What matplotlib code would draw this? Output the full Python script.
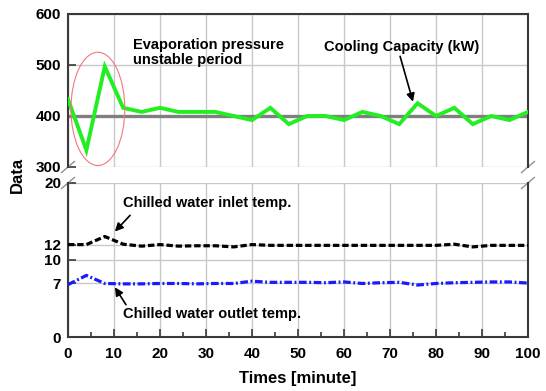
import matplotlib
matplotlib.use("Agg")
import matplotlib.pyplot as plt
from matplotlib.patches import Ellipse
import numpy as np

plt.rcParams['font.family'] = ['Liberation Sans', 'DejaVu Sans']
plt.rcParams['font.weight'] = 'bold'

# ---- data ----
times = [0, 4, 8, 12, 16, 20, 24, 28, 32, 36, 40, 44, 48, 52, 56, 60, 64, 68, 72, 76, 80, 84, 88, 92, 96, 100]
cooling_capacity = [433, 333, 497, 416, 408, 416, 408, 408, 408, 400, 392, 416, 384,
                    400, 400, 392, 408, 400, 384, 425, 400, 416, 384, 400, 392, 408]
inlet_temp = [12.0, 12.0, 13.05, 12.05, 11.8, 12.0, 11.8, 11.85, 11.85, 11.7, 12.0, 11.9, 11.9,
              11.9, 11.9, 11.9, 11.9, 11.9, 11.9, 11.9, 11.9, 12.05, 11.7, 11.9, 11.9, 11.9]
outlet_temp = [6.8, 8.0, 6.95, 6.9, 6.9, 6.95, 6.95, 6.9, 6.95, 6.95, 7.25, 7.1, 7.1,
               7.1, 7.05, 7.15, 6.95, 7.05, 7.1, 6.75, 6.95, 7.05, 7.1, 7.15, 7.15, 7.0]
capacity_ref = 400

x_ticks = [0, 10, 20, 30, 40, 50, 60, 70, 80, 90, 100]
top_yticks = [300, 400, 500, 600]
bottom_yticks = [0, 7, 10, 12, 20]

spine_col = '#3a3a3a'
grid_col = '#c8c8c8'

fig = plt.figure(figsize=(5.46, 3.91), dpi=100)
ax1 = fig.add_axes([0.1245, 0.5729, 0.8425, 0.3913])
ax2 = fig.add_axes([0.1245, 0.1381, 0.8425, 0.3939])

for ax in (ax1, ax2):
    ax.set_xlim(0, 100)
    ax.set_xticks(x_ticks)
    ax.grid(True, color=grid_col, lw=1.0, zorder=0)
    ax.set_axisbelow(True)
    for s in ax.spines.values():
        s.set_color(spine_col)
        s.set_linewidth(1.5)

# top panel
ax1.set_ylim(300, 600)
ax1.set_yticks(top_yticks)
ax1.spines['bottom'].set_visible(False)
ax1.tick_params(axis='x', length=0, labelbottom=False)
ax1.tick_params(axis='y', direction='in', length=6, width=1.2, labelsize=11, pad=5, color=spine_col)
ax1.axhline(capacity_ref, color='#7f7f7f', lw=2.4, zorder=2)
ax1.plot(times, cooling_capacity, color='#22ee22', lw=2.8, zorder=3, solid_joinstyle='miter')
ell = Ellipse((6.5, 414), 11.7, 222, fill=False, edgecolor='#f07878', lw=0.8, zorder=4, clip_on=False)
ax1.add_patch(ell)
ax1.text(14.1, 552, 'Evaporation pressure\nunstable period', fontsize=10.5, fontweight='bold',
         ha='left', va='top', linespacing=1.05)
ax1.text(55.7, 536, 'Cooling Capacity (kW)', fontsize=10.5, fontweight='bold', ha='left', va='center')
ax1.annotate('', xy=(75.0, 428), xytext=(72.2, 517),
             arrowprops=dict(arrowstyle='-|>', color='black', lw=1.2, mutation_scale=12, shrinkA=0, shrinkB=0))

# bottom panel
ax2.set_ylim(0, 20)
ax2.set_yticks(bottom_yticks)
ax2.set_xticks(np.arange(5, 100, 10), minor=True)
ax2.spines['top'].set_visible(False)
ax2.tick_params(axis='x', which='major', direction='in', length=6, width=1.2, labelsize=11, pad=7, color=spine_col)
ax2.tick_params(axis='x', which='minor', direction='in', length=3.5, width=1.2, color=spine_col)
ax2.tick_params(axis='y', direction='in', length=6, width=1.2, labelsize=11, pad=5, color=spine_col)
ax2.plot(times, inlet_temp, color='black', lw=2.3, ls=(0, (2.0, 0.9)), zorder=3)
ax2.plot(times, outlet_temp, color='#1a1aff', lw=2.3, ls=(0, (2.4, 0.8, 0.6, 0.8)), zorder=3)
ax2.text(12.0, 17.4, 'Chilled water inlet temp.', fontsize=10.5, fontweight='bold', ha='left', va='center')
ax2.annotate('', xy=(10.2, 13.7), xytext=(13.5, 15.8),
             arrowprops=dict(arrowstyle='-|>', color='black', lw=1.2, mutation_scale=12, shrinkA=0, shrinkB=0))
ax2.text(12.0, 3.0, 'Chilled water outlet temp.', fontsize=10.5, fontweight='bold', ha='left', va='center')
ax2.annotate('', xy=(10.2, 6.45), xytext=(12.6, 4.2),
             arrowprops=dict(arrowstyle='-|>', color='black', lw=1.2, mutation_scale=12, shrinkA=0, shrinkB=0))

# break marks
dx, dy = 0.014, 0.036
for x0 in (0, 1):
    ax1.plot([x0 - dx, x0 + dx], [-dy, dy], transform=ax1.transAxes, color='#909090', lw=1.0, clip_on=False)
    ax2.plot([x0 - dx, x0 + dx], [1 - dy, 1 + dy], transform=ax2.transAxes, color='#909090', lw=1.0, clip_on=False)

fig.text(0.032, 1 - 175 / 391, 'Data', rotation=90, fontsize=12, fontweight='bold', ha='center', va='center')
fig.text(0.5458, 1 - 378 / 391, 'Times [minute]', fontsize=12, fontweight='bold', ha='center', va='center')

fig.savefig('out.png', dpi=100)
